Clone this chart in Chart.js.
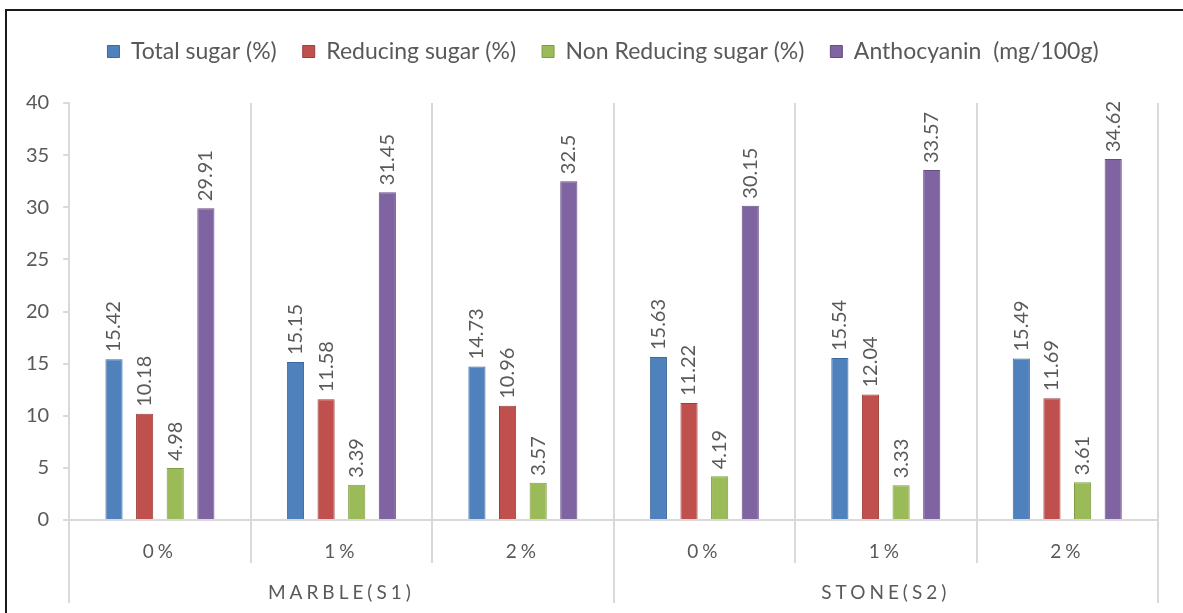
<!DOCTYPE html>
<html>
<head>
<meta charset="utf-8">
<script src="https://cdn.jsdelivr.net/npm/chart.js@4.4.1/dist/chart.umd.min.js"></script>
<style>
  html, body { margin: 0; padding: 0; background: #fff; overflow: hidden; }
  #frame { position: absolute; left: 5px; top: 9px; width: 1400px; height: 800px;
           border-left: 2px solid #1a1a1a; border-top: 2px solid #1a1a1a; }
  #wrap { position: absolute; left: 0; top: 0; width: 1183px; height: 613px; }
</style>
</head>
<body>
<div id="frame"></div>
<div id="wrap"><canvas id="myChart"></canvas></div>
<script>
// data
const doseLabels = ['0%', '1%', '2%', '0%', '1%', '2%'];
const groupLabels = ['MARBLE(S1)', 'STONE(S2)'];
const totalSugar = [15.42, 15.15, 14.73, 15.63, 15.54, 15.49];
const reducingSugar = [10.18, 11.58, 10.96, 11.22, 12.04, 11.69];
const nonReducingSugar = [4.98, 3.39, 3.57, 4.19, 3.33, 3.61];
const anthocyanin = [29.91, 31.45, 32.5, 30.15, 33.57, 34.62];

const textColor = '#595959';
const lineColor = '#D9D9D9';
const fontFamily = 'Lato, "Liberation Sans", sans-serif';

// rotated value labels above each bar
const valueLabels = {
  id: 'valueLabels',
  afterDatasetsDraw(chart) {
    const ctx = chart.ctx;
    chart.data.datasets.forEach((ds, i) => {
      chart.getDatasetMeta(i).data.forEach((bar, j) => {
        ctx.save();
        ctx.translate(bar.x, bar.y - 7);
        ctx.rotate(-Math.PI / 2);
        ctx.font = '20px ' + fontFamily;
        ctx.fillStyle = textColor;
        ctx.textAlign = 'left';
        ctx.textBaseline = 'middle';
        ctx.fillText(String(ds.data[j]), 0, 0);
        ctx.restore();
      });
    });
  }
};

// letter-spaced, unclipped labels on the two category axes
const spacedAxisText = {
  id: 'spacedAxisText',
  afterLayout(chart) {
    ['x', 'x2'].forEach(id => {
      const scale = chart.scales[id];
      if (!scale || scale._spaced) return;
      const orig = scale.drawLabels;
      scale._computeLabelArea = () => undefined;
      scale.drawLabels = function (area) {
        this.ctx.save();
        this.ctx.letterSpacing = '4px';
        orig.call(this, area);
        this.ctx.restore();
      };
      scale._spaced = true;
    });
  }
};

// extra room under the legend, legend nudged right like the original
const legendSpace = {
  id: 'legendSpace',
  beforeLayout(chart) {
    const legend = chart.legend;
    if (!legend || legend._patched) return;
    const fit = legend.fit;
    legend.fit = function () { fit.call(this); this.height += 30; };
    const draw = legend.draw;
    legend.draw = function () {
      this.ctx.save();
      this.ctx.translate(18, 0);
      draw.call(this);
      this.ctx.restore();
    };
    legend._patched = true;
  }
};

function buildChart() {
  const ctx = document.getElementById('myChart').getContext('2d');

  const myChart = new Chart(ctx, {
    type: 'bar',
    data: {
      labels: doseLabels,
      datasets: [
        { label: 'Total sugar (%)', data: totalSugar, backgroundColor: '#4F81BD', borderColor: '#3D6A9E' },
        { label: 'Reducing sugar (%)', data: reducingSugar, backgroundColor: '#C0504D', borderColor: '#9E3E3B' },
        { label: 'Non Reducing sugar (%)', data: nonReducingSugar, backgroundColor: '#9BBB59', borderColor: '#7F9C45' },
        { label: 'Anthocyanin  (mg/100g)', data: anthocyanin, backgroundColor: '#8064A2', borderColor: '#664E85' }
      ].map(d => Object.assign(d, { borderWidth: 1, categoryPercentage: 0.675, barPercentage: 0.56 }))
    },
    options: {
      responsive: true,
      maintainAspectRatio: false,
      animation: false,
      layout: { padding: { top: 14, left: 12, right: 25, bottom: 12 } },
      plugins: {
        tooltip: { enabled: false },
        legend: {
          position: 'top',
          labels: {
            boxWidth: 12, boxHeight: 12, padding: 26,
            color: textColor,
            font: { family: fontFamily, size: 23 }
          }
        }
      },
      scales: {
        y: {
          min: 0, max: 40,
          ticks: { stepSize: 5, padding: 14, color: textColor, font: { family: fontFamily, size: 20 } },
          grid: { drawOnChartArea: false, tickLength: 6, color: lineColor, lineWidth: 2 },
          border: { color: lineColor, width: 2 }
        },
        x: {
          offset: true,
          ticks: { padding: -23, color: textColor, font: { family: fontFamily, size: 19 } },
          grid: { offset: true, tickLength: 43, color: lineColor, lineWidth: 2 },
          border: { color: lineColor, width: 2 },
          afterFit(scale) { scale.height = 40; }
        },
        x2: {
          type: 'category',
          position: 'bottom',
          labels: groupLabels,
          offset: true,
          ticks: { padding: -22, color: textColor, font: { family: fontFamily, size: 19 } },
          grid: { offset: true, drawOnChartArea: false, tickLength: 43, color: lineColor, lineWidth: 2 },
          border: { display: false },
          afterFit(scale) { scale.height = 41; }
        }
      }
    },
    plugins: [valueLabels, spacedAxisText, legendSpace]
  });

  return myChart;
}

buildChart();
</script>
</body>
</html>
